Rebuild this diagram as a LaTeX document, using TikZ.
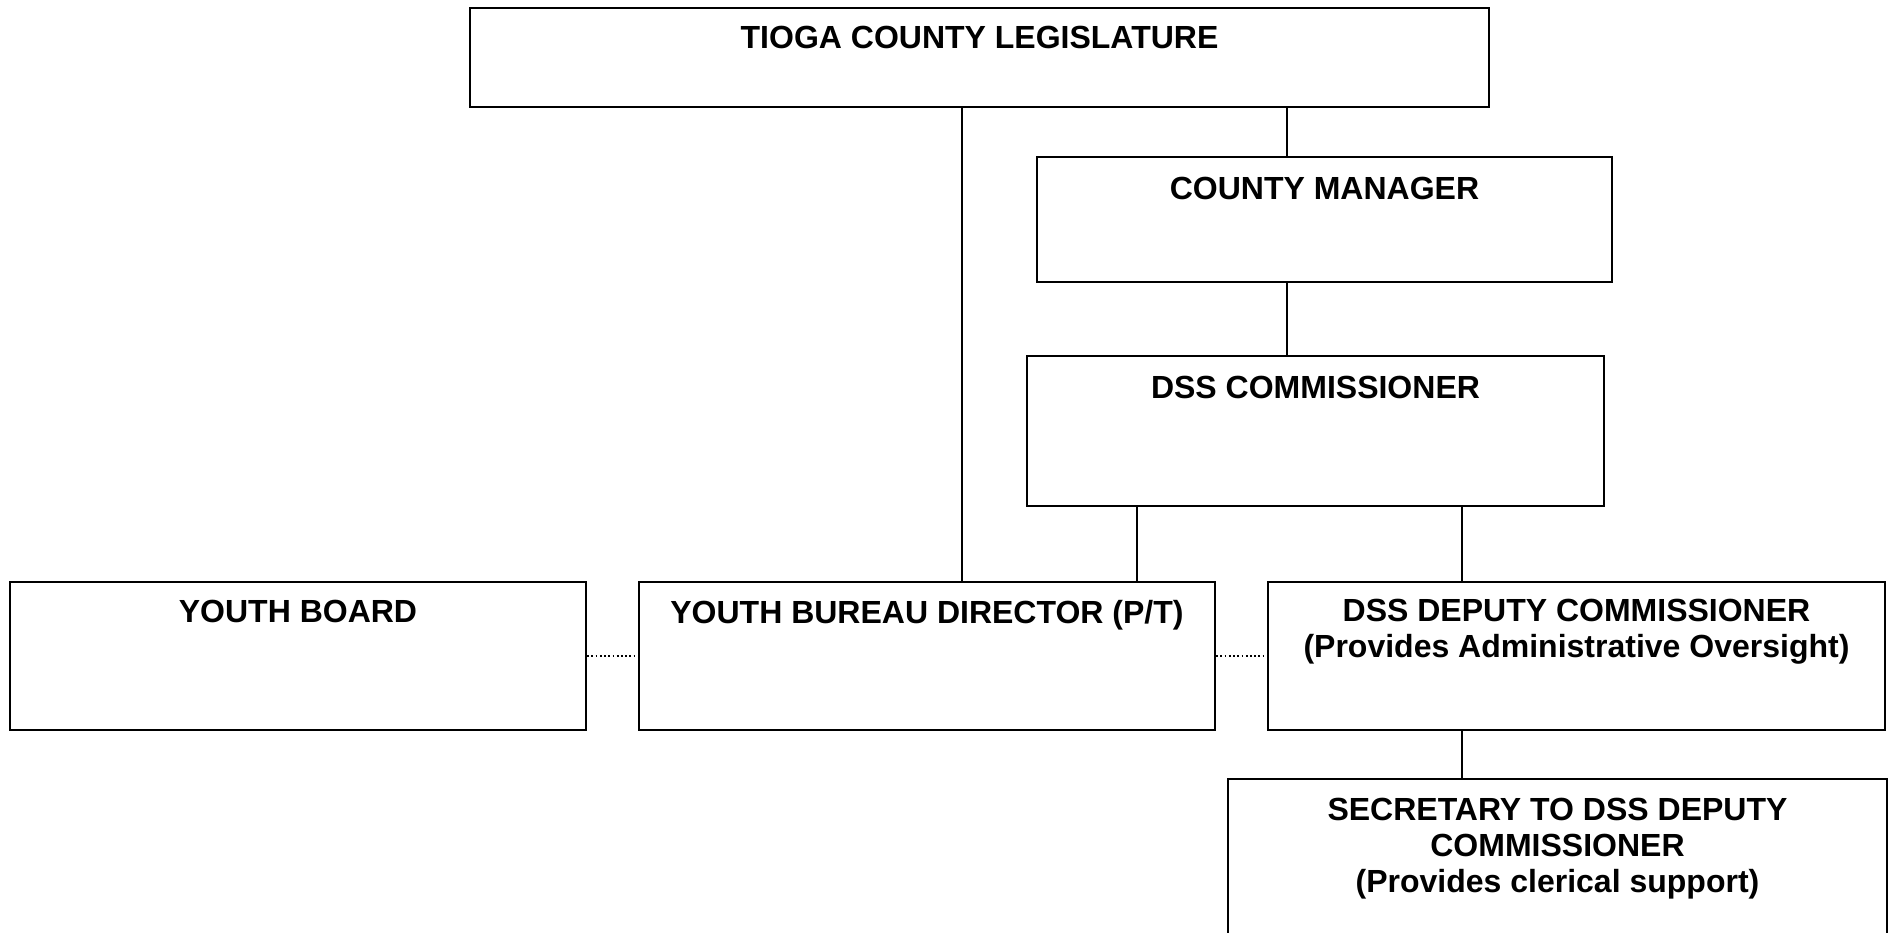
\documentclass[tikz,border=0pt]{standalone}
\usepackage{fontspec}
\setmainfont{Liberation Sans}
\usetikzlibrary{calc}
\usetikzlibrary{positioning}

\tikzset{
  unit/.style 2 args={draw, line width=0.6pt, inner sep=0pt, minimum width=#1, minimum height=#2},
  title/.style={anchor=north, inner sep=0pt, align=center, font=\fontsize{9.1}{10.2}\selectfont\bfseries},
  link/.style={line width=0.55pt},
  dotlink/.style={line width=0.5pt, dash pattern=on 0.5pt off 0.7pt}
}

\begin{document}
\begin{tikzpicture}[x=0.01cm, y=-0.01cm]
  \clip (0, 0) rectangle (1893, 932);

  \node[unit={10.19cm}{0.99cm}] (leg) at (979.5, 57.5) {};
  \node[unit={5.75cm}{1.25cm}] (mgr) at (1324.5, 219.5) {};
  \node[unit={5.77cm}{1.50cm}] (com) at (1315.5, 431) {};

  \node[unit={5.76cm}{1.48cm}] (board) at (298, 656) {};
  \node[unit={5.76cm}{1.48cm}] (ybd) at (927, 656) {};
  \node[unit={6.17cm}{1.48cm}] (dep) at (1576.5, 656) {};
  \node[unit={6.59cm}{1.71cm}] (sec) at (1557.5, 864.5) {};

  \node[title] (legt) at ($(leg.north)+(0, 19)$) {TIOGA COUNTY LEGISLATURE};
  \node[title] (mgrt) at ($(mgr.north)+(0, 21)$) {COUNTY MANAGER};
  \node[title] (comt) at ($(com.north)+(0, 21)$) {DSS COMMISSIONER};
  \node[title] (boardt) at ($(board.north)+(0, 19)$) {YOUTH BOARD};
  \node[title] (ybdt) at ($(ybd.north)+(0, 19)$) {YOUTH BUREAU DIRECTOR (P/T)};
  \node[title] (dept) at ($(dep.north)+(0, 18)$) {DSS DEPUTY COMMISSIONER\\(Provides Administrative Oversight)};
  \node[title] (sect) at ($(sec.north)+(0, 20)$) {SECRETARY TO DSS DEPUTY\\COMMISSIONER\\(Provides clerical support)};

  % drop lines
  \coordinate (c1) at (962, 0);
  \coordinate (c2) at (1287, 0);
  \coordinate (c3) at (1137, 0);
  \coordinate (c4) at (1462, 0);

  \draw[link] (leg.south -| c1) -- (ybd.north -| c1);
  \draw[link] (leg.south -| c2) -- (mgr.north -| c2);
  \draw[link] (mgr.south -| c2) -- (com.north -| c2);
  \draw[link] (com.south -| c3) -- (ybd.north -| c3);
  \draw[link] (com.south -| c4) -- (dep.north -| c4);
  \draw[link] (dep.south -| c4) -- (sec.north -| c4);

  \draw[dotlink] (board.east) -- (ybd.west);
  \draw[dotlink] (ybd.east) -- (dep.west);
\end{tikzpicture}
\end{document}
